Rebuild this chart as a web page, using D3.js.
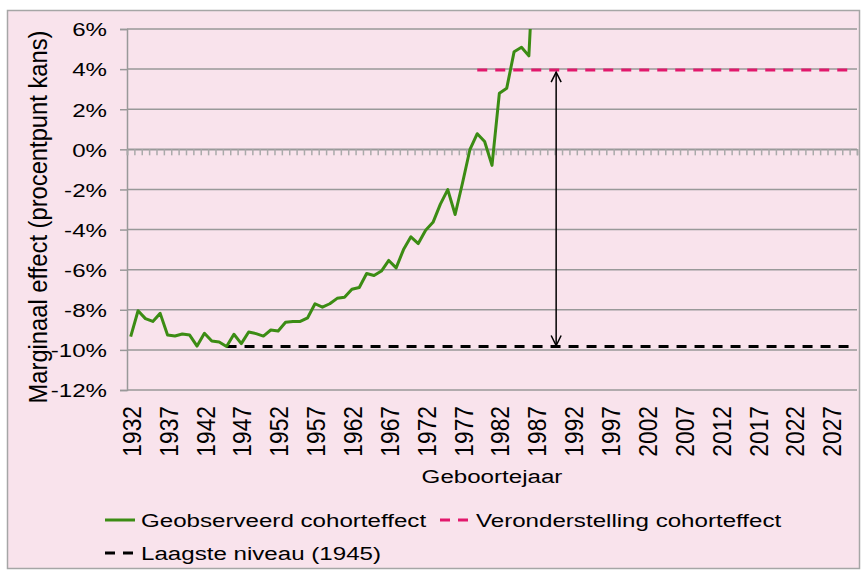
<!DOCTYPE html>
<html>
<head>
<meta charset="utf-8">
<script src="https://cdn.jsdelivr.net/npm/d3@7"></script>
<style>
  body { margin: 0; background: #fff; }
  svg text { font-family: "Liberation Sans", Arial, sans-serif; fill: #000; }
</style>
</head>
<body>
<svg id="chart" width="862" height="570"></svg>
<script>
// Data
const years = d3.range(1932, 2031);
const observedYears = d3.range(1932, 1988);
const observed = [
  -9.34, -8.05, -8.44, -8.58, -8.18, -9.26, -9.31, -9.21, -9.26, -9.81,
  -9.17, -9.56, -9.61, -9.83, -9.22, -9.69, -9.11, -9.19, -9.31, -9.01,
  -9.06, -8.62, -8.58, -8.58, -8.40, -7.70, -7.87, -7.70, -7.43, -7.38,
  -6.98, -6.89, -6.19, -6.29, -6.07, -5.54, -5.91, -5.00, -4.36, -4.70,
  -4.03, -3.64, -2.73, -2.01, -3.25, -1.68, -0.02, 0.78, 0.39, -0.80,
  2.80, 3.05, 4.87, 5.09, 4.66, 12.0
];
const assumptionYears = d3.range(1979, 2031);
const assumptionValue = 3.95;
const lowestYears = d3.range(1945, 2031);
const lowestValue = -9.83;
const arrowYear = 1989.7;
const yTicks = [6, 4, 2, 0, -2, -4, -6, -8, -10, -12];
const labelYears = d3.range(1932, 2031, 5);

const legendItems = [
  { name: "Geobserveerd cohorteffect", color: "#3c8c14", dash: null },
  { name: "Veronderstelling cohorteffect", color: "#e2186c", dash: "10,8" },
  { name: "Laagste niveau (1945)", color: "#000", dash: "10,8" }
];

const SX = 1.27; // horizontal text stretch seen in the reference
const FONT = 19;

const svg = d3.select('#chart');

// chart frame
svg.append('rect')
  .attr('x', 7.5).attr('y', 10.5)
  .attr('width', 852).attr('height', 558)
  .attr('fill', '#f9e3ec')
  .attr('stroke', '#a6a6a6')
  .attr('stroke-width', 1.5);

const plot = { left: 127, right: 857, top: 29, bottom: 390 };

const x = d3.scaleLinear()
  .domain([1931.5, 2030.5])
  .range([plot.left, plot.right]);

const y = d3.scaleLinear()
  .domain([-12, 6])
  .range([plot.bottom, plot.top]);

// gridlines
svg.append('g')
  .selectAll('line')
  .data(yTicks)
  .enter()
  .append('line')
  .attr('x1', plot.left)
  .attr('x2', plot.right)
  .attr('y1', d => y(d))
  .attr('y2', d => y(d))
  .attr('stroke', '#999')
  .attr('stroke-width', 1.5);

// y axis
const yAxis = svg.append('g')
  .attr('transform', `translate(${plot.left},0)`)
  .call(d3.axisLeft(y).tickValues(yTicks).tickSize(7).tickFormat(d => d + '%'));

yAxis.select('.domain').attr('stroke', '#999').attr('stroke-width', 1.5);
yAxis.selectAll('.tick line').attr('stroke', '#999').attr('stroke-width', 1.5);
yAxis.selectAll('.tick text')
  .attr('x', null)
  .attr('dy', '0.36em')
  .attr('font-size', FONT)
  .attr('transform', `translate(-20,0) scale(${SX},1)`);

// category tick marks on the zero line
const tickAxis = svg.append('g')
  .attr('transform', `translate(0,${y(0)})`)
  .call(d3.axisBottom(x)
    .tickValues(d3.range(1931.5, 2031, 1))
    .tickSize(6)
    .tickFormat(''));

tickAxis.select('.domain').attr('stroke', '#999').attr('stroke-width', 1.5);
tickAxis.selectAll('.tick line').attr('stroke', '#aaa').attr('stroke-width', 1.5);

// year labels at the bottom
const labelAxis = svg.append('g')
  .attr('transform', `translate(0,${plot.bottom})`)
  .call(d3.axisBottom(x).tickValues(labelYears).tickSize(0).tickFormat(d3.format('d')));

labelAxis.select('.domain').remove();
labelAxis.selectAll('.tick text')
  .attr('y', null)
  .attr('dy', '0.36em')
  .attr('text-anchor', 'end')
  .attr('font-size', FONT)
  .attr('transform', 'translate(0,16) rotate(-90) scale(1.2,1.4)');

// clip for the data lines
svg.append('clipPath')
  .attr('id', 'plot-clip')
  .append('rect')
  .attr('x', plot.left).attr('y', plot.top)
  .attr('width', plot.right - plot.left)
  .attr('height', plot.bottom - plot.top);

const lines = svg.append('g').attr('clip-path', 'url(#plot-clip)');

const line = d3.line()
  .x(d => x(d[0]))
  .y(d => y(d[1]));

lines.append('path')
  .datum(lowestYears.map(yr => [yr, lowestValue]))
  .attr('d', line)
  .attr('fill', 'none')
  .attr('stroke', legendItems[2].color)
  .attr('stroke-width', 3)
  .attr('stroke-dasharray', legendItems[2].dash);

lines.append('path')
  .datum(assumptionYears.map(yr => [yr, assumptionValue]))
  .attr('d', line)
  .attr('fill', 'none')
  .attr('stroke', legendItems[1].color)
  .attr('stroke-width', 3)
  .attr('stroke-dasharray', legendItems[1].dash);

lines.append('path')
  .datum(observedYears.map((yr, i) => [yr, observed[i]]))
  .attr('d', line)
  .attr('fill', 'none')
  .attr('stroke', legendItems[0].color)
  .attr('stroke-width', 3)
  .attr('stroke-linejoin', 'round');

// double-headed arrow between assumption and lowest level
const ax = x(arrowYear);
const aTop = y(assumptionValue) + 2;
const aBot = y(lowestValue) - 1;
const arrow = svg.append('g')
  .attr('stroke', '#000')
  .attr('stroke-width', 1.5)
  .attr('fill', 'none');
arrow.append('line')
  .attr('x1', ax).attr('x2', ax)
  .attr('y1', aTop).attr('y2', aBot);
arrow.append('path')
  .attr('d', `M${ax - 5},${aTop + 10}L${ax},${aTop}L${ax + 5},${aTop + 10}`);
arrow.append('path')
  .attr('d', `M${ax - 5},${aBot - 10}L${ax},${aBot}L${ax + 5},${aBot - 10}`);

// axis titles
svg.append('text')
  .attr('text-anchor', 'middle')
  .attr('font-size', FONT)
  .attr('dy', '0.36em')
  .attr('transform', `translate(37,217) rotate(-90) scale(1.25,1.4)`)
  .text('Marginaal effect (procentpunt kans)');

svg.append('text')
  .attr('text-anchor', 'middle')
  .attr('font-size', FONT)
  .attr('dy', '0.36em')
  .attr('transform', `translate(${(plot.left + plot.right) / 2},476) scale(${SX},1)`)
  .text('Geboortejaar');

// legend
const legendPos = [
  { x: 105, y: 520 },
  { x: 440, y: 520 },
  { x: 105, y: 553 }
];

const legend = svg.append('g')
  .selectAll('g')
  .data(legendItems)
  .enter()
  .append('g')
  .attr('transform', (d, i) => `translate(${legendPos[i].x},${legendPos[i].y})`);

legend.append('line')
  .attr('x1', 0).attr('x2', 30)
  .attr('y1', 0).attr('y2', 0)
  .attr('stroke', d => d.color)
  .attr('stroke-width', 3)
  .attr('stroke-dasharray', d => d.dash);

legend.append('text')
  .attr('font-size', FONT)
  .attr('dy', '0.36em')
  .attr('transform', `translate(36,0) scale(${SX},1)`)
  .text(d => d.name);
</script>
</body>
</html>
